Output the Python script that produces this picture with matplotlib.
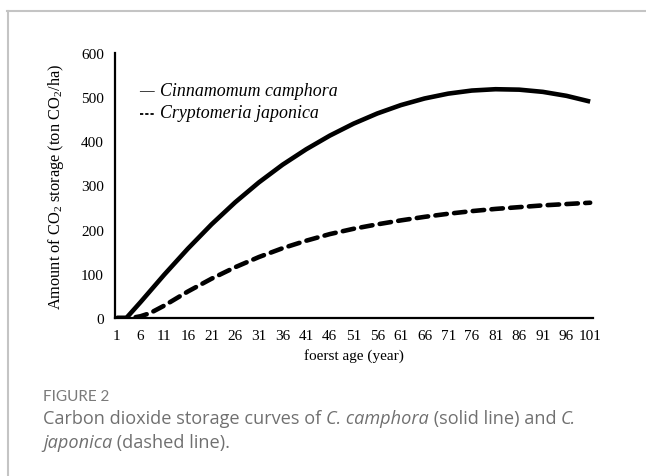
import numpy as np
import matplotlib.pyplot as plt

plt.rcParams['font.family'] = 'Liberation Serif'
plt.rcParams['mathtext.fontset'] = 'custom'
plt.rcParams['mathtext.rm'] = 'Liberation Serif'

# forest age (years) and CO2 storage (ton CO2/ha)
ages = [1, 3, 6, 11, 16, 21, 26, 31, 36, 41, 46, 51, 56, 61, 66, 71, 76, 81, 86, 91, 96, 101]
camphora = [0, 0, 36, 98, 157, 212, 262, 307, 347, 382, 413, 440, 463, 482, 497, 508, 515, 518, 517, 512, 503, 490]
ages_j = [1, 4, 6, 8, 11, 16, 21, 26, 31, 36, 41, 46, 51, 56, 61, 66, 71, 76, 81, 86, 91, 96, 101]
japonica = [0, 0, 4, 11, 28, 60, 89, 115, 138, 158, 175, 190, 202, 212, 221, 229, 236, 242, 247, 251, 255, 258, 261]
xticks = list(range(1, 102, 5))
yticks = [0, 100, 200, 300, 400, 500, 600]

W, H = 646, 477
fig = plt.figure(figsize=(W / 100, H / 100), dpi=100)
ax = fig.add_axes([115 / W, 1 - 319 / H, (593 - 115) / W, (319 - 54) / H])

ax.plot(ages, camphora, color='black', lw=3.3, solid_capstyle='butt', solid_joinstyle='round')
ax.plot(ages_j, japonica, color='black', lw=3.3, dashes=(2.5, 1.6), dash_capstyle='round')

ax.set_xlim(0.6, 101.6)
ax.set_ylim(0, 600)
ax.set_xticks(xticks)
ax.set_yticks(yticks)
ax.tick_params(length=0, labelsize=11, pad=8)
for s in ['top', 'right']:
    ax.spines[s].set_visible(False)
for s in ['left', 'bottom']:
    ax.spines[s].set_linewidth(1.6)

ax.set_xlabel('foerst age (year)', fontsize=11, labelpad=4)
ax.set_ylabel('Amount of CO$\\mathregular{_2}$ storage (ton CO$\\mathregular{_2}$/ha)', fontsize=11.8)
ax.yaxis.set_label_coords((66 - 115) / (593 - 115), 0.5)

# legend written as text
fig.text(139 / W, 1 - 92 / H, '\u2014', fontsize=10.5, va='center')
fig.text(160 / W, 1 - 92 / H, 'Cinnamomum camphora', fontsize=12.9, style='italic', va='center')
fig.add_artist(plt.Line2D([140 / W, 155 / W], [1 - 115 / H, 1 - 115 / H], color='black',
                          lw=1.3, dashes=(1.8, 1.1)))
fig.text(160 / W, 1 - 114 / H, 'Cryptomeria japonica', fontsize=12.9, style='italic', va='center')

# page frame
fig.add_artist(plt.Line2D([7 / W, 1], [1 - 12 / H, 1 - 12 / H], color='#c4c4c4', lw=1.5))
fig.add_artist(plt.Line2D([8 / W, 8 / W], [0, 1 - 12 / H], color='#c4c4c4', lw=1.5))

# caption
renderer = fig.canvas.get_renderer()


def runs(x, y, parts, **kw):
    for txt, st in parts:
        t = fig.text(x, y, txt, style=st, **kw)
        bb = t.get_window_extent(renderer)
        x = bb.x1 / W


cap = dict(family='Open Sans', fontsize=13.1, color='#707070', va='center')
fig.text(43 / W, 1 - 397 / H, 'FIGURE 2', family='Lato', fontsize=11, color='#7a7a7a', va='center')
runs(43 / W, 1 - 419 / H, [('Carbon dioxide storage curves of ', 'normal'), ('C. camphora', 'italic'),
                           (' (solid line) and ', 'normal'), ('C.', 'italic')], **cap)
runs(43 / W, 1 - 443 / H, [('japonica', 'italic'), (' (dashed line).', 'normal')], **cap)

fig.savefig('out.png', dpi=100)
